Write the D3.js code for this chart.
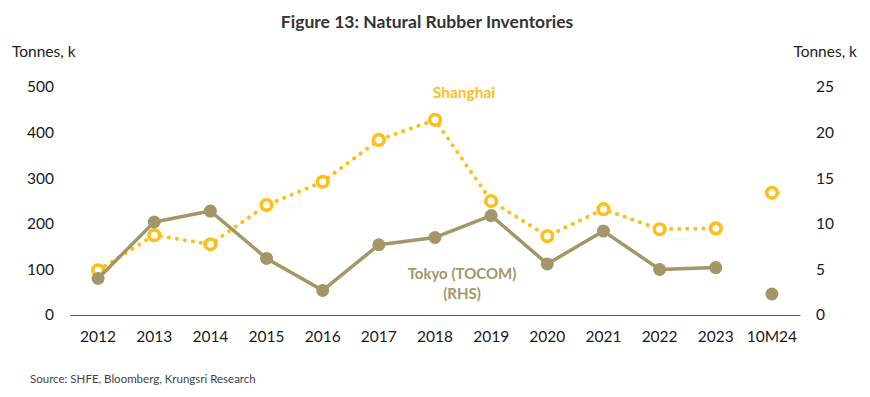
<!DOCTYPE html>
<html>
<head>
<meta charset="utf-8">
<script src="https://cdn.jsdelivr.net/npm/d3@7"></script>
<style>
  body { margin: 0; background: #fff; }
  svg text { font-family: Lato, "Open Sans", sans-serif; }
</style>
</head>
<body>
<svg width="870" height="397"></svg>
<script>
// Categories and series values
const years = ['2012', '2013', '2014', '2015', '2016', '2017', '2018', '2019', '2020', '2021', '2022', '2023', '10M24'];
const shanghai = [98, 175, 155, 241, 292, 384, 428, 250, 173, 232, 188, 190, 268];   // left axis, k tonnes
const tokyo = [4.0, 10.2, 11.4, 6.2, 2.7, 7.7, 8.5, 10.9, 5.6, 9.2, 5.0, 5.2, 2.3];   // right axis, k tonnes
const leftTicks = [0, 100, 200, 300, 400, 500];
const rightTicks = [0, 5, 10, 15, 20, 25];

const yellow = '#FFBE1A';
const olive = '#A39768';

const svg = d3.select('svg');

const x = d3.scaleBand().domain(years).range([70, 800]);
const yL = d3.scaleLinear().domain([0, 500]).range([315, 87]);
const yR = d3.scaleLinear().domain([0, 25]).range([315, 87]);
const cx = d => x(d) + x.bandwidth() / 2;

// Title
svg.append('text')
  .attr('x', 427).attr('y', 28)
  .attr('text-anchor', 'middle')
  .style('font-size', '17.5px').style('font-weight', 'bold')
  .attr('fill', '#333')
  .text('Figure 13: Natural Rubber Inventories');

// Axis units
svg.append('text').attr('x', 12).attr('y', 57)
  .style('font-size', '15.5px').attr('fill', '#222').text('Tonnes, k');
svg.append('text').attr('x', 857).attr('y', 57).attr('text-anchor', 'end')
  .style('font-size', '15.5px').attr('fill', '#222').text('Tonnes, k');

// Left axis
const axL = svg.append('g').attr('transform', 'translate(56,0)')
  .call(d3.axisLeft(yL).tickValues(leftTicks).tickSize(0).tickPadding(2));
axL.select('.domain').remove();
axL.selectAll('text').style('font-size', '15.5px').attr('fill', '#1a1a1a')
  .style('font-family', 'Lato, sans-serif');

// Right axis
const axR = svg.append('g').attr('transform', 'translate(812,0)')
  .call(d3.axisRight(yR).tickValues(rightTicks).tickSize(0).tickPadding(4));
axR.select('.domain').remove();
axR.selectAll('text').style('font-size', '15.5px').attr('fill', '#1a1a1a')
  .style('font-family', 'Lato, sans-serif');

// Bottom axis
const axB = svg.append('g').attr('transform', 'translate(0,315)')
  .call(d3.axisBottom(x).tickSize(0).tickPadding(16));
axB.select('.domain').attr('stroke', '#595959').attr('stroke-width', 1.2);
axB.selectAll('text').style('font-size', '15.5px').attr('fill', '#1a1a1a')
  .style('font-family', 'Lato, sans-serif');

// Shanghai: dotted line over 2012-2023, separate 10M24 point
const lineL = d3.line().x((d, i) => cx(years[i])).y(d => yL(d));
const lineR = d3.line().x((d, i) => cx(years[i])).y(d => yR(d));

svg.append('path')
  .datum(shanghai.slice(0, 12))
  .attr('d', lineL)
  .attr('fill', 'none')
  .attr('stroke', yellow)
  .attr('stroke-width', 4)
  .attr('stroke-linecap', 'round')
  .attr('stroke-dasharray', '0.1 8');

svg.selectAll('.sh')
  .data(shanghai)
  .enter().append('circle')
  .attr('class', 'sh')
  .attr('cx', (d, i) => cx(years[i]))
  .attr('cy', d => yL(d))
  .attr('r', 5.3)
  .attr('fill', '#fff')
  .attr('stroke', yellow)
  .attr('stroke-width', 3.6);

// Tokyo: solid line, filled markers
svg.append('path')
  .datum(tokyo.slice(0, 12))
  .attr('d', lineR)
  .attr('fill', 'none')
  .attr('stroke', olive)
  .attr('stroke-width', 3.5)
  .attr('stroke-linejoin', 'round');

svg.selectAll('.tk')
  .data(tokyo)
  .enter().append('circle')
  .attr('class', 'tk')
  .attr('cx', (d, i) => cx(years[i]))
  .attr('cy', d => yR(d))
  .attr('r', 6.5)
  .attr('fill', olive);

// Series labels
svg.append('text').attr('x', 464).attr('y', 98).attr('text-anchor', 'middle')
  .style('font-size', '15.5px').style('font-weight', 'bold')
  .attr('fill', yellow).text('Shanghai');
svg.append('text').attr('x', 462).attr('y', 279).attr('text-anchor', 'middle')
  .style('font-size', '15px').style('font-weight', 'bold')
  .attr('fill', olive).text('Tokyo (TOCOM)');
svg.append('text').attr('x', 462).attr('y', 299).attr('text-anchor', 'middle')
  .style('font-size', '15px').style('font-weight', 'bold')
  .attr('fill', olive).text('(RHS)');

// Source
svg.append('text').attr('x', 30).attr('y', 383)
  .style('font-size', '11.5px').attr('fill', '#444')
  .text('Source: SHFE, Bloomberg, Krungsri Research');
</script>
</body>
</html>
